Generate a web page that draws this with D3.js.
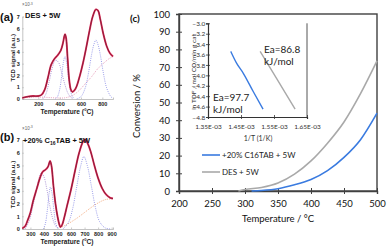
<!DOCTYPE html>
<html>
<head>
<meta charset="utf-8">
<script src="https://cdnjs.cloudflare.com/ajax/libs/d3/7.8.5/d3.min.js"></script>
<style>
  body { margin: 0; background: #fff; }
  svg { display: block; }
  .tpd text { font-family: "Liberation Sans", Arial, sans-serif; }
  .conv text { font-family: Lato, "Open Sans", sans-serif; }
</style>
</head>
<body>
<svg id="chart" width="387" height="247"></svg>
<script>
// ---- panel (a): DES + 5W, TPD signal x10^-3 ----
var tpdA_T      = [50, 100, 150, 200, 230, 260, 290, 320, 350, 380, 410, 430, 450, 460, 475, 490, 505, 520, 540, 560, 590, 620, 650, 680, 710, 740, 760, 780, 810, 840, 870, 900];
var tpdA_signal = [0.1, 0.2, 0.25, 0.25, 0.35, 0.8, 1.8, 2.9, 3.4, 3.7, 4.1, 4.7, 5.5, 5.2, 3.4, 1.6, 0.8, 0.6, 0.75, 1.1, 2.0, 3.1, 4.4, 5.8, 7.0, 7.6, 7.5, 6.8, 5.5, 4.5, 3.9, 3.6];
var tpdA_shoulder = [[240,0],[270,0.4],[300,1.4],[330,2.6],[360,3.3],[390,3.1],[420,2.2],[450,1.2],[480,0.45],[510,0.1],[530,0]];
var tpdA_peak1 = [[360,0],[380,0.2],[400,0.8],[420,2.0],[435,3.1],[450,3.6],[465,3.1],[480,2.0],[500,0.8],[520,0.2],[540,0]];
var tpdA_peak2 = [[560,0],[600,0.2],[640,0.95],[670,2.2],[700,3.8],[720,4.6],[740,5.0],[760,4.6],[780,3.8],[810,2.2],[840,0.95],[880,0.2],[900,0.05]];
var tpdA_base  = [[50,0.1],[150,0.15],[250,0.15],[350,0.1],[450,0.1],[520,0.3],[580,0.7],[640,1.3],[700,1.9],[760,2.6],[820,3.1],[860,3.4],[900,3.6]];

// ---- panel (b): +20% C16TAB + 5W ----
var tpdB_T      = [240, 260, 280, 300, 320, 345, 370, 390, 410, 430, 445, 455, 470, 485, 500, 515, 522, 535, 550, 570, 600, 630, 660, 690, 705, 720, 745, 770, 800, 830, 860, 890, 910];
var tpdB_signal = [0.05, 0.2, 0.7, 1.3, 2.2, 3.1, 4.0, 4.5, 4.65, 4.9, 5.35, 5.0, 3.4, 2.0, 1.0, 0.3, 0.15, 0.35, 0.9, 1.8, 3.1, 4.6, 6.0, 6.9, 7.05, 6.8, 6.1, 5.1, 4.0, 3.2, 2.7, 2.45, 2.4];
var tpdB_shoulder = [[260,0],[290,0.6],[320,1.9],[350,3.4],[380,4.4],[400,4.1],[420,3.2],[440,2.0],[460,1.0],[480,0.35],[500,0.05]];
var tpdB_peak1 = [[395,0],[410,0.4],[425,1.5],[438,2.8],[448,3.3],[460,2.8],[473,1.5],[488,0.4],[505,0]];
var tpdB_peak2 = [[540,0],[580,0.5],[610,1.5],[640,3.2],[670,4.9],[695,5.7],[720,5.0],[750,3.4],[780,1.7],[810,0.6],[850,0.1],[890,0]];
var tpdB_base  = [[520,0.1],[560,0.3],[600,0.55],[650,0.9],[700,1.3],[750,1.7],[800,2.05],[850,2.3],[910,2.4]];

var tpdY_ticks  = [0, 1, 2, 3, 4, 5, 6, 7];
var tpdA_xticks = [200, 400, 600, 800];
var tpdB_xticks = [300, 400, 500, 600, 700, 800, 900];

// ---- panel (c): conversion vs temperature ----
var conv_T     = [290, 300, 325, 350, 375, 400, 425, 450, 475, 500];
var conv_DES   = [0, 0.8, 2, 4.5, 9.5, 17, 27, 39, 55, 73.5];
var convT_C16  = [310, 325, 350, 375, 400, 425, 450, 475, 500];
var conv_C16   = [0, 0.3, 1.3, 3.5, 6.5, 11.5, 19, 29, 44];
var conv_xticks = [200, 250, 300, 350, 400, 450, 500];
var conv_yticks = [0, 10, 20, 30, 40, 50, 60, 70, 80, 90, 100];

// inset: Arrhenius plot
var arr_C16 = [[1.419e-3,-3.54],[1.437e-3,-3.77],[1.457e-3,-3.96],[1.487e-3,-4.31],[1.517e-3,-4.65]];
var arr_DES = [[1.508e-3,-3.54],[1.560e-3,-4.08],[1.614e-3,-4.65]];
var arr_xticks = [1.35e-3, 1.45e-3, 1.55e-3, 1.65e-3];
var arr_xlabels = ["1.35E-03", "1.45E-03", "1.55E-03", "1.65E-03"];
var arr_yticks = [-3.0, -3.2, -3.4, -3.6, -3.8, -4.0, -4.2, -4.4, -4.6, -4.8];

var svg = d3.select("#chart");
svg.append("rect").attr("width", 387).attr("height", 247).attr("fill", "#fff");

// ================= TPD panels =================
function tpdPanel(o) {
    var g = svg.append("g").attr("class", "tpd");
    var x = d3.scaleLinear().domain(o.xdom).range([22.3, 113]);
    var y = d3.scaleLinear().domain([0, 7]).range([o.y0, o.y7]);

    var xa = g.append("g").attr("transform", "translate(0," + o.y0 + ")")
        .call(d3.axisBottom(x).tickValues(o.xticks).tickSize(-1.5).tickPadding(3.5).tickFormat(d3.format("d")));
    var ya = g.append("g").attr("transform", "translate(22.3,0)")
        .call(d3.axisLeft(y).tickValues(tpdY_ticks).tickSize(-1.5).tickPadding(2.5).tickFormat(d3.format("d")));
    [xa, ya].forEach(function(a) {
        a.select(".domain").attr("stroke", "#aaa").attr("stroke-width", 0.7);
        a.selectAll(".tick line").attr("stroke", "#aaa").attr("stroke-width", 0.6);
        a.selectAll("text").attr("font-size", 5.5).attr("fill", "#222").attr("font-weight", "bold");
    });

    var line = d3.line().x(function(d) { return x(d[0]); }).y(function(d) { return y(d[1]); })
        .curve(d3.curveCatmullRom.alpha(0.5));

    function dotted(pts, col) {
        g.append("path").attr("d", line(pts)).attr("fill", "none")
            .attr("stroke", col).attr("stroke-width", 0.9).attr("stroke-dasharray", "1,1.2");
    }
    dotted(o.base, o.baseCol);
    dotted(o.shoulder, "#a48bd0");
    dotted(o.peak1, "#8e92e8");
    dotted(o.peak2, "#8e92e8");

    var meas = o.T.map(function(t, i) { return [t, o.S[i]]; });
    g.append("path").attr("d", line(meas)).attr("fill", "none")
        .attr("stroke", "#e8305c").attr("stroke-width", 1.9);
    g.append("path").attr("d", line(meas)).attr("fill", "none")
        .attr("stroke", "#6a1830").attr("stroke-width", 0.8);

    // labels
    g.append("text").attr("x", 22).attr("y", o.y7 - 10.5).attr("font-size", 4.5).attr("fill", "#666")
        .html("×10<tspan dy='-1.5' font-size='3.5'>-3</tspan>");
    g.append("text").attr("x", 0).attr("y", o.y7 + o.tagDy).attr("font-size", 11)
        .attr("font-weight", "bold").attr("fill", "#111").text(o.tag);
    var t = g.append("text").attr("x", 25).attr("y", o.y7 + 1.5).attr("font-size", 7.5)
        .attr("font-weight", "bold").attr("fill", "#111");
    o.title(t);
    g.append("text").attr("x", 67).attr("y", o.y0 + 15).attr("text-anchor", "middle")
        .attr("font-size", 6.6).attr("font-weight", "bold").attr("fill", "#222").text("Temperature (°C)");
    g.append("text").attr("transform", "translate(15," + ((o.y0 + o.y7) / 2) + ") rotate(-90)")
        .attr("text-anchor", "middle").attr("font-size", 6).attr("font-weight", "bold")
        .attr("fill", "#222").text("TCD signal (a.u.)");
}

tpdPanel({
    xdom: [50, 900], y0: 99, y7: 16.5, xticks: tpdA_xticks, tag: "(a)", tagDy: 4,
    T: tpdA_T, S: tpdA_signal, shoulder: tpdA_shoulder, peak1: tpdA_peak1, peak2: tpdA_peak2,
    base: tpdA_base, baseCol: "#e596b4",
    title: function(t) { t.text("DES + 5W"); }
});
tpdPanel({
    xdom: [240, 910], y0: 229, y7: 140, xticks: tpdB_xticks, tag: "(b)", tagDy: 0.5,
    T: tpdB_T, S: tpdB_signal, shoulder: tpdB_shoulder, peak1: tpdB_peak1, peak2: tpdB_peak2,
    base: tpdB_base, baseCol: "#f0a272",
    title: function(t) {
        t.attr("x", 23).attr("y", 143);
        t.append("tspan").text("+20% C");
        t.append("tspan").attr("font-size", 5).attr("dy", 1.8).text("16");
        t.append("tspan").attr("dy", -1.8).text("TAB + 5W");
    }
});

// ================= panel (c) =================
var gc = svg.append("g").attr("class", "conv");
var cx = d3.scaleLinear().domain([200, 500]).range([179, 377]);
var cy = d3.scaleLinear().domain([0, 100]).range([191, 14]);

gc.append("rect").attr("x", 179).attr("y", 14).attr("width", 198).attr("height", 177)
    .attr("fill", "none").attr("stroke", "#404040").attr("stroke-width", 1.4);

var cxa = gc.append("g").attr("transform", "translate(0,191)")
    .call(d3.axisBottom(cx).tickValues(conv_xticks).tickSize(3).tickPadding(6).tickFormat(d3.format("d")));
var cya = gc.append("g").attr("transform", "translate(179,0)")
    .call(d3.axisLeft(cy).tickValues(conv_yticks).tickSize(3).tickPadding(6).tickFormat(d3.format("d")));
[cxa, cya].forEach(function(a) {
    a.select(".domain").attr("stroke", "#404040").attr("stroke-width", 1.4);
    a.selectAll(".tick line").attr("stroke", "#404040").attr("stroke-width", 1);
    a.selectAll("text").attr("font-size", 9.5).attr("fill", "#111");
});
cya.selectAll(".tick line").attr("x1", 3);
cxa.selectAll(".tick line").attr("y1", -3);

var convLine = d3.line().x(function(d) { return cx(d[0]); }).y(function(d) { return cy(d[1]); })
    .curve(d3.curveMonotoneX);
gc.append("path").attr("d", convLine(conv_T.map(function(t, i) { return [t, conv_DES[i]]; })))
    .attr("fill", "none").attr("stroke", "#a9a9a9").attr("stroke-width", 1.6);
gc.append("path").attr("d", convLine(convT_C16.map(function(t, i) { return [t, conv_C16[i]]; })))
    .attr("fill", "none").attr("stroke", "#3a7be0").attr("stroke-width", 1.6);

gc.append("text").attr("x", 278).attr("y", 222).attr("text-anchor", "middle")
    .attr("font-size", 9.5).attr("fill", "#111").text("Temperature / °C");
gc.append("text").attr("transform", "translate(140,106) rotate(-90)").attr("text-anchor", "middle")
    .attr("font-size", 9.5).attr("fill", "#111").text("Conversion / %");
gc.append("text").attr("x", 130).attr("y", 21.5).attr("font-size", 10).attr("font-weight", "bold")
    .attr("font-family", "Liberation Sans, Arial, sans-serif").attr("fill", "#111").text("(c)");

// legend
var legend = [["+20% C16TAB + 5W", "#3a7be0", 155], ["DES + 5W", "#a9a9a9", 172]];
legend.forEach(function(l) {
    gc.append("line").attr("x1", 202).attr("x2", 220).attr("y1", l[2]).attr("y2", l[2])
        .attr("stroke", l[1]).attr("stroke-width", 1.6);
    gc.append("text").attr("x", 222).attr("y", l[2] + 3).attr("font-size", 8).attr("fill", "#222").text(l[0]);
});

// inset
var ix = d3.scaleLinear().domain([1.35e-3, 1.65e-3]).range([208, 307]);
var iy = d3.scaleLinear().domain([-3.0, -4.8]).range([23.3, 117]);
gc.append("line").attr("x1", 307).attr("x2", 307).attr("y1", 23.3).attr("y2", 117)
    .attr("stroke", "#555").attr("stroke-width", 1);
var ixa = gc.append("g").attr("transform", "translate(0,117)")
    .call(d3.axisBottom(ix).tickValues(arr_xticks).tickSize(2).tickPadding(5.5)
        .tickFormat(function(d, i) { return arr_xlabels[i]; }));
var iya = gc.append("g").attr("transform", "translate(208,0)")
    .call(d3.axisLeft(iy).tickValues(arr_yticks).tickSize(2).tickPadding(0.8).tickFormat(d3.format(".1f")));
[ixa, iya].forEach(function(a) {
    a.select(".domain").attr("stroke", "#333").attr("stroke-width", 1.2);
    a.selectAll(".tick line").attr("stroke", "#333").attr("stroke-width", 0.8);
    a.selectAll("text").attr("font-size", 6.5).attr("fill", "#333");
});
iya.selectAll(".tick line").attr("x1", 2);
ixa.selectAll(".tick line").attr("y1", -2);

var arrLine = d3.line().x(function(d) { return ix(d[0]); }).y(function(d) { return iy(d[1]); })
    .curve(d3.curveMonotoneX);
gc.append("path").attr("d", arrLine(arr_C16)).attr("fill", "none").attr("stroke", "#3a7be0").attr("stroke-width", 1.4);
gc.append("path").attr("d", arrLine(arr_DES)).attr("fill", "none").attr("stroke", "#a9a9a9").attr("stroke-width", 1.4);

gc.append("text").attr("x", 258).attr("y", 140.5).attr("text-anchor", "middle")
    .attr("font-size", 7).attr("fill", "#333").text("1/T  (1/K)");
gc.append("text").attr("transform", "translate(196,72) rotate(-90)").attr("text-anchor", "middle")
    .attr("font-size", 6.5).attr("fill", "#333").text("ln TOF / mol CO/min g cat");

[["Ea=86.8", 264, 52.5], ["kJ/mol", 264, 65], ["Ea=97.7", 213, 100.5], ["kJ/mol", 213, 113]].forEach(function(a) {
    gc.append("text").attr("x", a[1]).attr("y", a[2]).attr("font-size", 10).attr("fill", "#222").text(a[0]);
});
</script>
</body>
</html>
